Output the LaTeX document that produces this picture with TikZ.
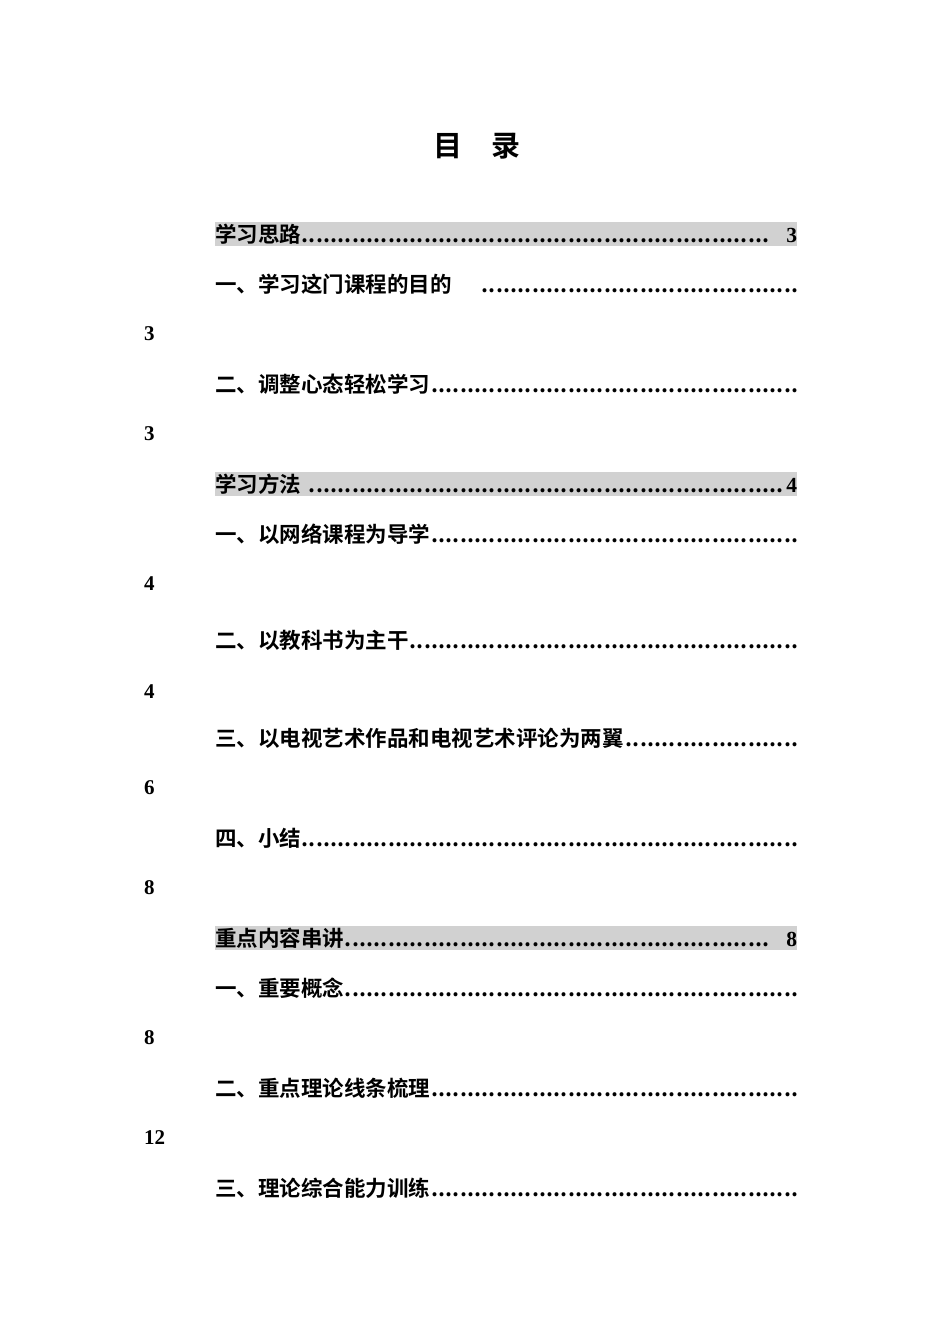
\documentclass[tikz,border=0pt]{standalone}
\usepackage{fontspec}
\setmainfont{Liberation Serif}
\newfontfamily\cjk{Noto Sans CJK SC}[BoldFont={Noto Sans CJK SC Bold}]
\newcommand{\mydots}{\leaders\hbox to 7.2pt{\hss.\hss}\hfill\null}
\begin{document}
\begin{tikzpicture}[x=1pt,y=-1pt,
  row/.style={anchor=west,inner sep=0pt,text width=590pt,font=\cjk\bfseries\fontsize{21.5}{23}\selectfont,minimum height=24pt},
  hl/.style={row,text width=582pt,fill=black!18},
  num/.style={anchor=west,inner sep=0pt,font=\bfseries\fontsize{21}{23}\selectfont}]
\useasboundingbox (0,0) rectangle (950,1344);
\node[font=\cjk\bfseries\fontsize{29}{31}\selectfont] (t) at (477,146) {目\hspace{1.0em}录};
\node[hl] (r1) at (215,234) {学习思路\mydots\ \ \textrm{3}};
\node[row] (r2) at (215,284) {一、学习这门课程的目的\hspace{1.2em}\mydots};
\node[num] (n2) at (144,334) {3};
\node[row] (r3) at (215,384) {二、调整心态轻松学习\mydots};
\node[num] (n3) at (144,434) {3};
\node[hl] (r4) at (215,484) {学习方法 \mydots\textrm{4}};
\node[row] (r5) at (215,534) {一、以网络课程为导学\mydots};
\node[num] (n5) at (144,584) {4};
\node[row] (r6) at (215,640) {二、以教科书为主干\mydots};
\node[num] (n6) at (144,692) {4};
\node[row] (r7) at (215,738) {三、以电视艺术作品和电视艺术评论为两翼\mydots};
\node[num] (n7) at (144,788) {6};
\node[row] (r8) at (215,838) {四、小结\mydots};
\node[num] (n8) at (144,888) {8};
\node[hl] (r9) at (215,938) {重点内容串讲\mydots\ \ \textrm{8}};
\node[row] (r10) at (215,988) {一、重要概念\mydots};
\node[num] (n10) at (144,1038) {8};
\node[row] (r11) at (215,1088) {二、重点理论线条梳理\mydots};
\node[num] (n11) at (144,1138) {12};
\node[row] (r12) at (215,1188) {三、理论综合能力训练\mydots};
\end{tikzpicture}
\end{document}
